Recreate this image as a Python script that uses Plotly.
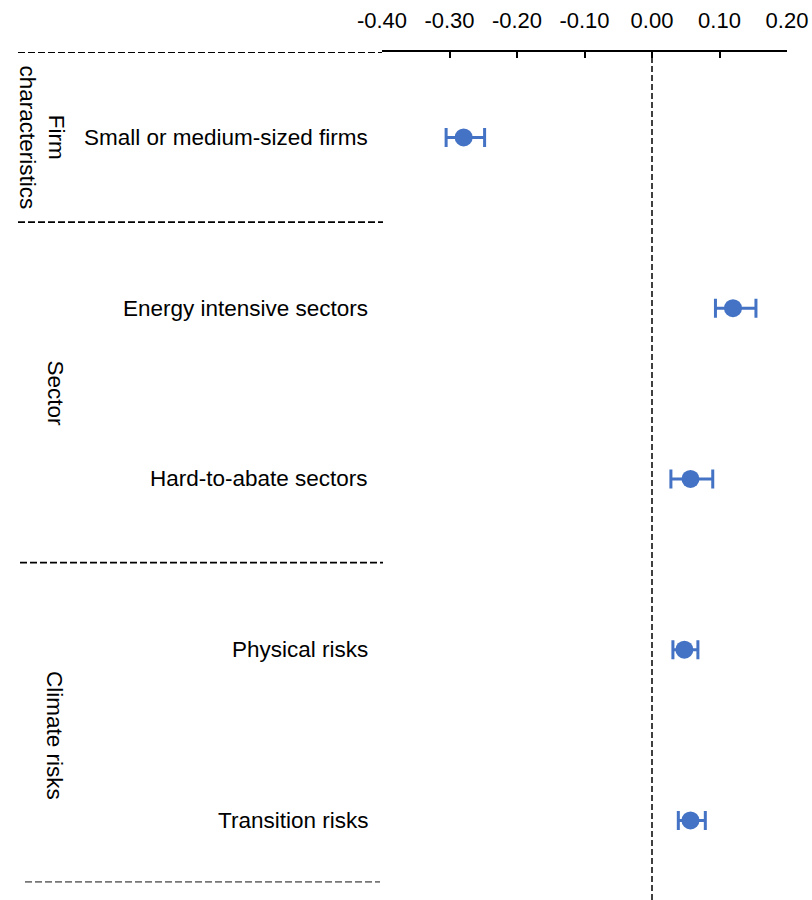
import plotly.graph_objects as go

# Estimated coefficients with confidence bounds
categories = [
    "Small or medium-sized firms",
    "Energy intensive sectors",
    "Hard-to-abate sectors",
    "Physical risks",
    "Transition risks",
]
estimates = [-0.279, 0.120, 0.057, 0.048, 0.057]
lower = [-0.305, 0.094, 0.028, 0.031, 0.039]
upper = [-0.248, 0.154, 0.090, 0.068, 0.079]

groups = ["Firm<br>characteristics", "Sector", "Climate risks"]
group_pos = [0, 1.5, 3.5]            # centre row of each group
separators = [-0.5, 0.496, 2.49, 4.36]  # rows between groups

x_ticks = [-0.40, -0.30, -0.20, -0.10, 0.00, 0.10, 0.20]

BLUE = "#4472C4"
FONT = "Liberation Sans, Arial, sans-serif"

W, H = 812, 900
L, R, T, B = 382, 25, 52, 0
plot_w = W - L - R


def px_to_paper_x(px):
    return (px - L) / plot_w


fig = go.Figure()

fig.add_trace(go.Scatter(
    x=estimates,
    y=list(range(len(categories))),
    mode="markers",
    marker=dict(color=BLUE, size=18),
    error_x=dict(
        type="data",
        symmetric=False,
        array=[u - e for u, e in zip(upper, estimates)],
        arrayminus=[e - l for e, l in zip(estimates, lower)],
        color=BLUE,
        thickness=3,
        width=9.5,
    ),
    showlegend=False,
    hoverinfo="skip",
))

shapes = []
# zero reference line
shapes.append(dict(type="line", xref="x", yref="paper", x0=0, x1=0, y0=0, y1=1,
                   line=dict(color="black", width=1.5, dash="6px,3px")))
# group separators on the left
sep_x = [(18, 382), (18, 383), (20, 383), (25, 380)]
for i, (s, (a, b)) in enumerate(zip(separators, sep_x)):
    shapes.append(dict(type="line", xref="paper", yref="y",
                       x0=px_to_paper_x(a), x1=px_to_paper_x(b), y0=s, y1=s,
                       line=dict(color="#777777" if i == 3 else "black",
                                 width=1.8, dash="7px,3px")))

annotations = []
for g, p, xc in zip(groups, group_pos, [42, 55, 55]):
    annotations.append(dict(
        text=g, x=px_to_paper_x(xc), y=p, xref="paper", yref="y",
        textangle=90, showarrow=False, xanchor="center", yanchor="middle",
        font=dict(family=FONT, size=22.5, color="black"),
    ))
for i, c in enumerate(categories):
    annotations.append(dict(
        text=c, x=px_to_paper_x(370), y=i, xref="paper", yref="y",
        showarrow=False, xanchor="right", yanchor="middle",
        font=dict(family=FONT, size=22.5, color="black"),
    ))

fig.update_layout(
    width=W, height=H,
    margin=dict(l=L, r=R, t=T, b=B, pad=0),
    paper_bgcolor="white",
    plot_bgcolor="white",
    shapes=shapes,
    annotations=annotations,
    xaxis=dict(
        side="top",
        range=[-0.40, 0.20],
        tickvals=x_ticks,
        ticktext=[f"{v:.2f}" for v in x_ticks],
        ticks="inside",
        ticklen=6,
        tickwidth=1.5,
        tickcolor="black",
        showline=True,
        linecolor="black",
        linewidth=2,
        showgrid=False,
        zeroline=False,
        ticklabelstandoff=13,
        tickfont=dict(family=FONT, size=22, color="black"),
    ),
    yaxis=dict(
        range=[4.466, -0.5],
        showticklabels=False,
        showgrid=False,
        zeroline=False,
        showline=False,
        ticks="",
    ),
)

fig.write_html("out.html")
